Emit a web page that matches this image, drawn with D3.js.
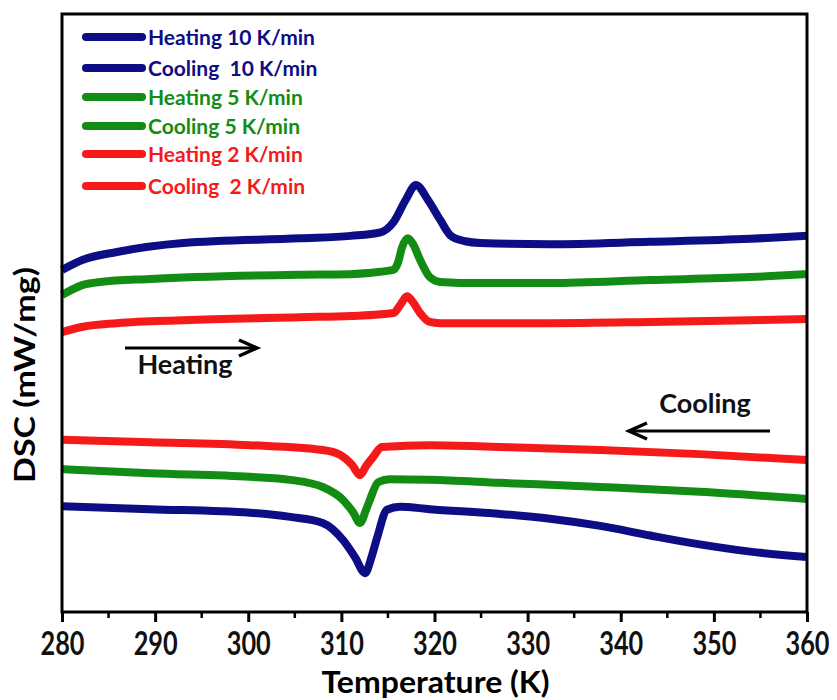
<!DOCTYPE html>
<html>
<head>
<script src="https://d3js.org/d3.v7.min.js"></script>
<style>
  body { margin: 0; background: #fff; }
  text { font-family: Lato, "Open Sans", sans-serif; font-weight: bold; }
</style>
</head>
<body>
<script>
// temperature (K) and DSC signal (arbitrary offset units)
var heat10T = [280, 282.25, 285.9, 293.0, 305.6, 311.0, 314.2, 315.6, 316.9, 318.0, 319.3, 320.6, 321.7, 323.3, 324.9, 332.4, 343.1, 353.9, 360];
var heat10V = [5.72, 5.89, 6.02, 6.17, 6.25, 6.29, 6.35, 6.52, 6.89, 7.14, 6.89, 6.56, 6.30, 6.20, 6.17, 6.15, 6.19, 6.24, 6.29];

var heat5T = [280, 282.25, 284.1, 289.45, 305.55, 310.9, 314.15, 315.55, 316.1, 316.5, 317.15, 317.7, 318.45, 319.5, 320.6, 324.9, 332.4, 343.15, 353.9, 360];
var heat5V = [5.30, 5.47, 5.52, 5.57, 5.64, 5.65, 5.69, 5.72, 5.85, 6.09, 6.25, 6.15, 5.89, 5.60, 5.52, 5.50, 5.50, 5.55, 5.60, 5.65];

var heat2T = [280, 282.25, 285.9, 293.0, 305.6, 311.0, 315.6, 316.3, 317.05, 317.7, 318.45, 319.5, 320.6, 324.9, 332.4, 343.1, 353.9, 360];
var heat2V = [4.68, 4.77, 4.83, 4.88, 4.93, 4.95, 5.00, 5.13, 5.28, 5.18, 5.00, 4.85, 4.83, 4.83, 4.83, 4.85, 4.88, 4.90];

var cool2T = [280, 289.45, 300.2, 308.0, 309.85, 311.15, 312.0, 312.65, 313.4, 314.35, 319.5, 327.05, 337.8, 348.5, 360];
var cool2V = [2.88, 2.84, 2.79, 2.71, 2.63, 2.46, 2.29, 2.44, 2.59, 2.76, 2.79, 2.76, 2.71, 2.64, 2.54];

var cool5T = [280, 289.45, 300.2, 304.5, 308.0, 310.2, 311.25, 312.0, 312.65, 313.05, 313.95, 315.2, 319.5, 327.05, 337.8, 348.5, 360];
var cool5V = [2.39, 2.32, 2.26, 2.21, 2.09, 1.87, 1.67, 1.49, 1.71, 1.87, 2.17, 2.22, 2.21, 2.16, 2.09, 2.01, 1.89];

var cool10T = [280, 289.45, 300.2, 304.5, 308.0, 310.2, 311.45, 312.55, 313.2, 313.85, 314.9, 316.3, 319.5, 327.05, 332.4, 337.8, 343.15, 348.5, 353.9, 360];
var cool10V = [1.77, 1.72, 1.66, 1.59, 1.49, 1.20, 0.92, 0.65, 0.90, 1.25, 1.71, 1.76, 1.72, 1.64, 1.56, 1.44, 1.28, 1.13, 1.01, 0.92];

var legendLabels = ["Heating 10 K/min", "Cooling  10 K/min", "Heating 5 K/min", "Cooling 5 K/min", "Heating 2 K/min", "Cooling  2 K/min"];
var xTicks = [280, 290, 300, 310, 320, 330, 340, 350, 360];

var navy = "#0d0d85", green = "#138c13", red = "#f51a1a";

var series = [
  {T: heat10T, V: heat10V, color: navy},
  {T: cool10T, V: cool10V, color: navy},
  {T: heat5T, V: heat5V, color: green},
  {T: cool5T, V: cool5V, color: green},
  {T: heat2T, V: heat2V, color: red},
  {T: cool2T, V: cool2V, color: red}
];

var W = 837, H = 700;
var pL = 62, pR = 807, pT = 14, pB = 612;

var svg = d3.select("body").append("svg").attr("width", W).attr("height", H);

var x = d3.scaleLinear().domain([280, 360]).range([pL, pR]);
var y = d3.scaleLinear().domain([0, 10]).range([pB, pT]);

var line = d3.line()
  .x(function(d){ return x(d[0]); })
  .y(function(d){ return y(d[1]); })
  .curve(d3.curveMonotoneX);

svg.selectAll("path.curve").data(series).enter().append("path")
  .attr("class", "curve")
  .attr("d", function(s){ return line(d3.zip(s.T, s.V)); })
  .attr("fill", "none")
  .attr("stroke", function(s){ return s.color; })
  .attr("stroke-width", 8)
  .attr("stroke-linejoin", "round");

// frame
svg.append("rect")
  .attr("x", pL).attr("y", pT)
  .attr("width", pR - pL).attr("height", pB - pT)
  .attr("fill", "none").attr("stroke", "#000").attr("stroke-width", 3);

// bottom axis: majors + minors
var minor = d3.range(285, 360, 10);
svg.selectAll("line.minor").data(minor).enter().append("line")
  .attr("x1", function(d){ return x(d); }).attr("x2", function(d){ return x(d); })
  .attr("y1", pB).attr("y2", pB + 6)
  .attr("stroke", "#000").attr("stroke-width", 2.5);

var xAxis = d3.axisBottom(x).tickValues(xTicks).tickSize(10).tickPadding(6).tickFormat(d3.format("d"));
var gx = svg.append("g").attr("transform", "translate(0," + pB + ")").call(xAxis);
gx.select(".domain").remove();
gx.selectAll(".tick line").attr("stroke-width", 3);
gx.selectAll(".tick text")
  .attr("y", 43).attr("dy", null)
  .style("font-size", "32px")
  .attr("textLength", 44).attr("lengthAdjust", "spacingAndGlyphs")
  .attr("fill", "#111");

svg.append("text")
  .attr("x", (pL + pR) / 2 + 1).attr("y", 693)
  .attr("text-anchor", "middle")
  .style("font-size", "30px")
  .attr("textLength", 228).attr("lengthAdjust", "spacingAndGlyphs")
  .text("Temperature (K)");

svg.append("text")
  .attr("transform", "translate(35,375) rotate(-90)")
  .attr("text-anchor", "middle")
  .style("font-size", "28px")
  .attr("textLength", 216).attr("lengthAdjust", "spacingAndGlyphs")
  .text("DSC (mW/mg)");

// legend
var rowY = [37, 68, 97, 126, 154, 186];
var lg = svg.selectAll("g.leg").data(legendLabels).enter().append("g")
  .attr("transform", function(d, i){ return "translate(0," + rowY[i] + ")"; });
lg.append("line")
  .attr("x1", 86).attr("x2", 142).attr("y1", 0).attr("y2", 0)
  .attr("stroke", function(d, i){ return series[i].color; })
  .attr("stroke-width", 8).attr("stroke-linecap", "round");
lg.append("text")
  .attr("x", 148).attr("y", 8)
  .style("font-size", "21px").style("white-space", "pre")
  .attr("fill", function(d, i){ return series[i].color; })
  .text(function(d){ return d; });

// direction arrows
function arrow(x1, x2, yy) {
  var dir = x2 > x1 ? 1 : -1;
  svg.append("line").attr("x1", x1).attr("x2", x2).attr("y1", yy).attr("y2", yy)
    .attr("stroke", "#000").attr("stroke-width", 3);
  svg.append("path")
    .attr("d", "M" + (x2 - dir * 18) + "," + (yy - 8) + "L" + x2 + "," + yy + "L" + (x2 - dir * 18) + "," + (yy + 8))
    .attr("fill", "none").attr("stroke", "#000").attr("stroke-width", 3.5)
    .attr("stroke-linejoin", "miter");
}
arrow(125, 257, 348);
svg.append("text").attr("x", 185).attr("y", 374).attr("text-anchor", "middle")
  .style("font-size", "27px").attr("fill", "#111").text("Heating");

arrow(770, 629, 431);
svg.append("text").attr("x", 705).attr("y", 413).attr("text-anchor", "middle")
  .style("font-size", "27px").attr("fill", "#111").text("Cooling");
</script>
</body>
</html>
